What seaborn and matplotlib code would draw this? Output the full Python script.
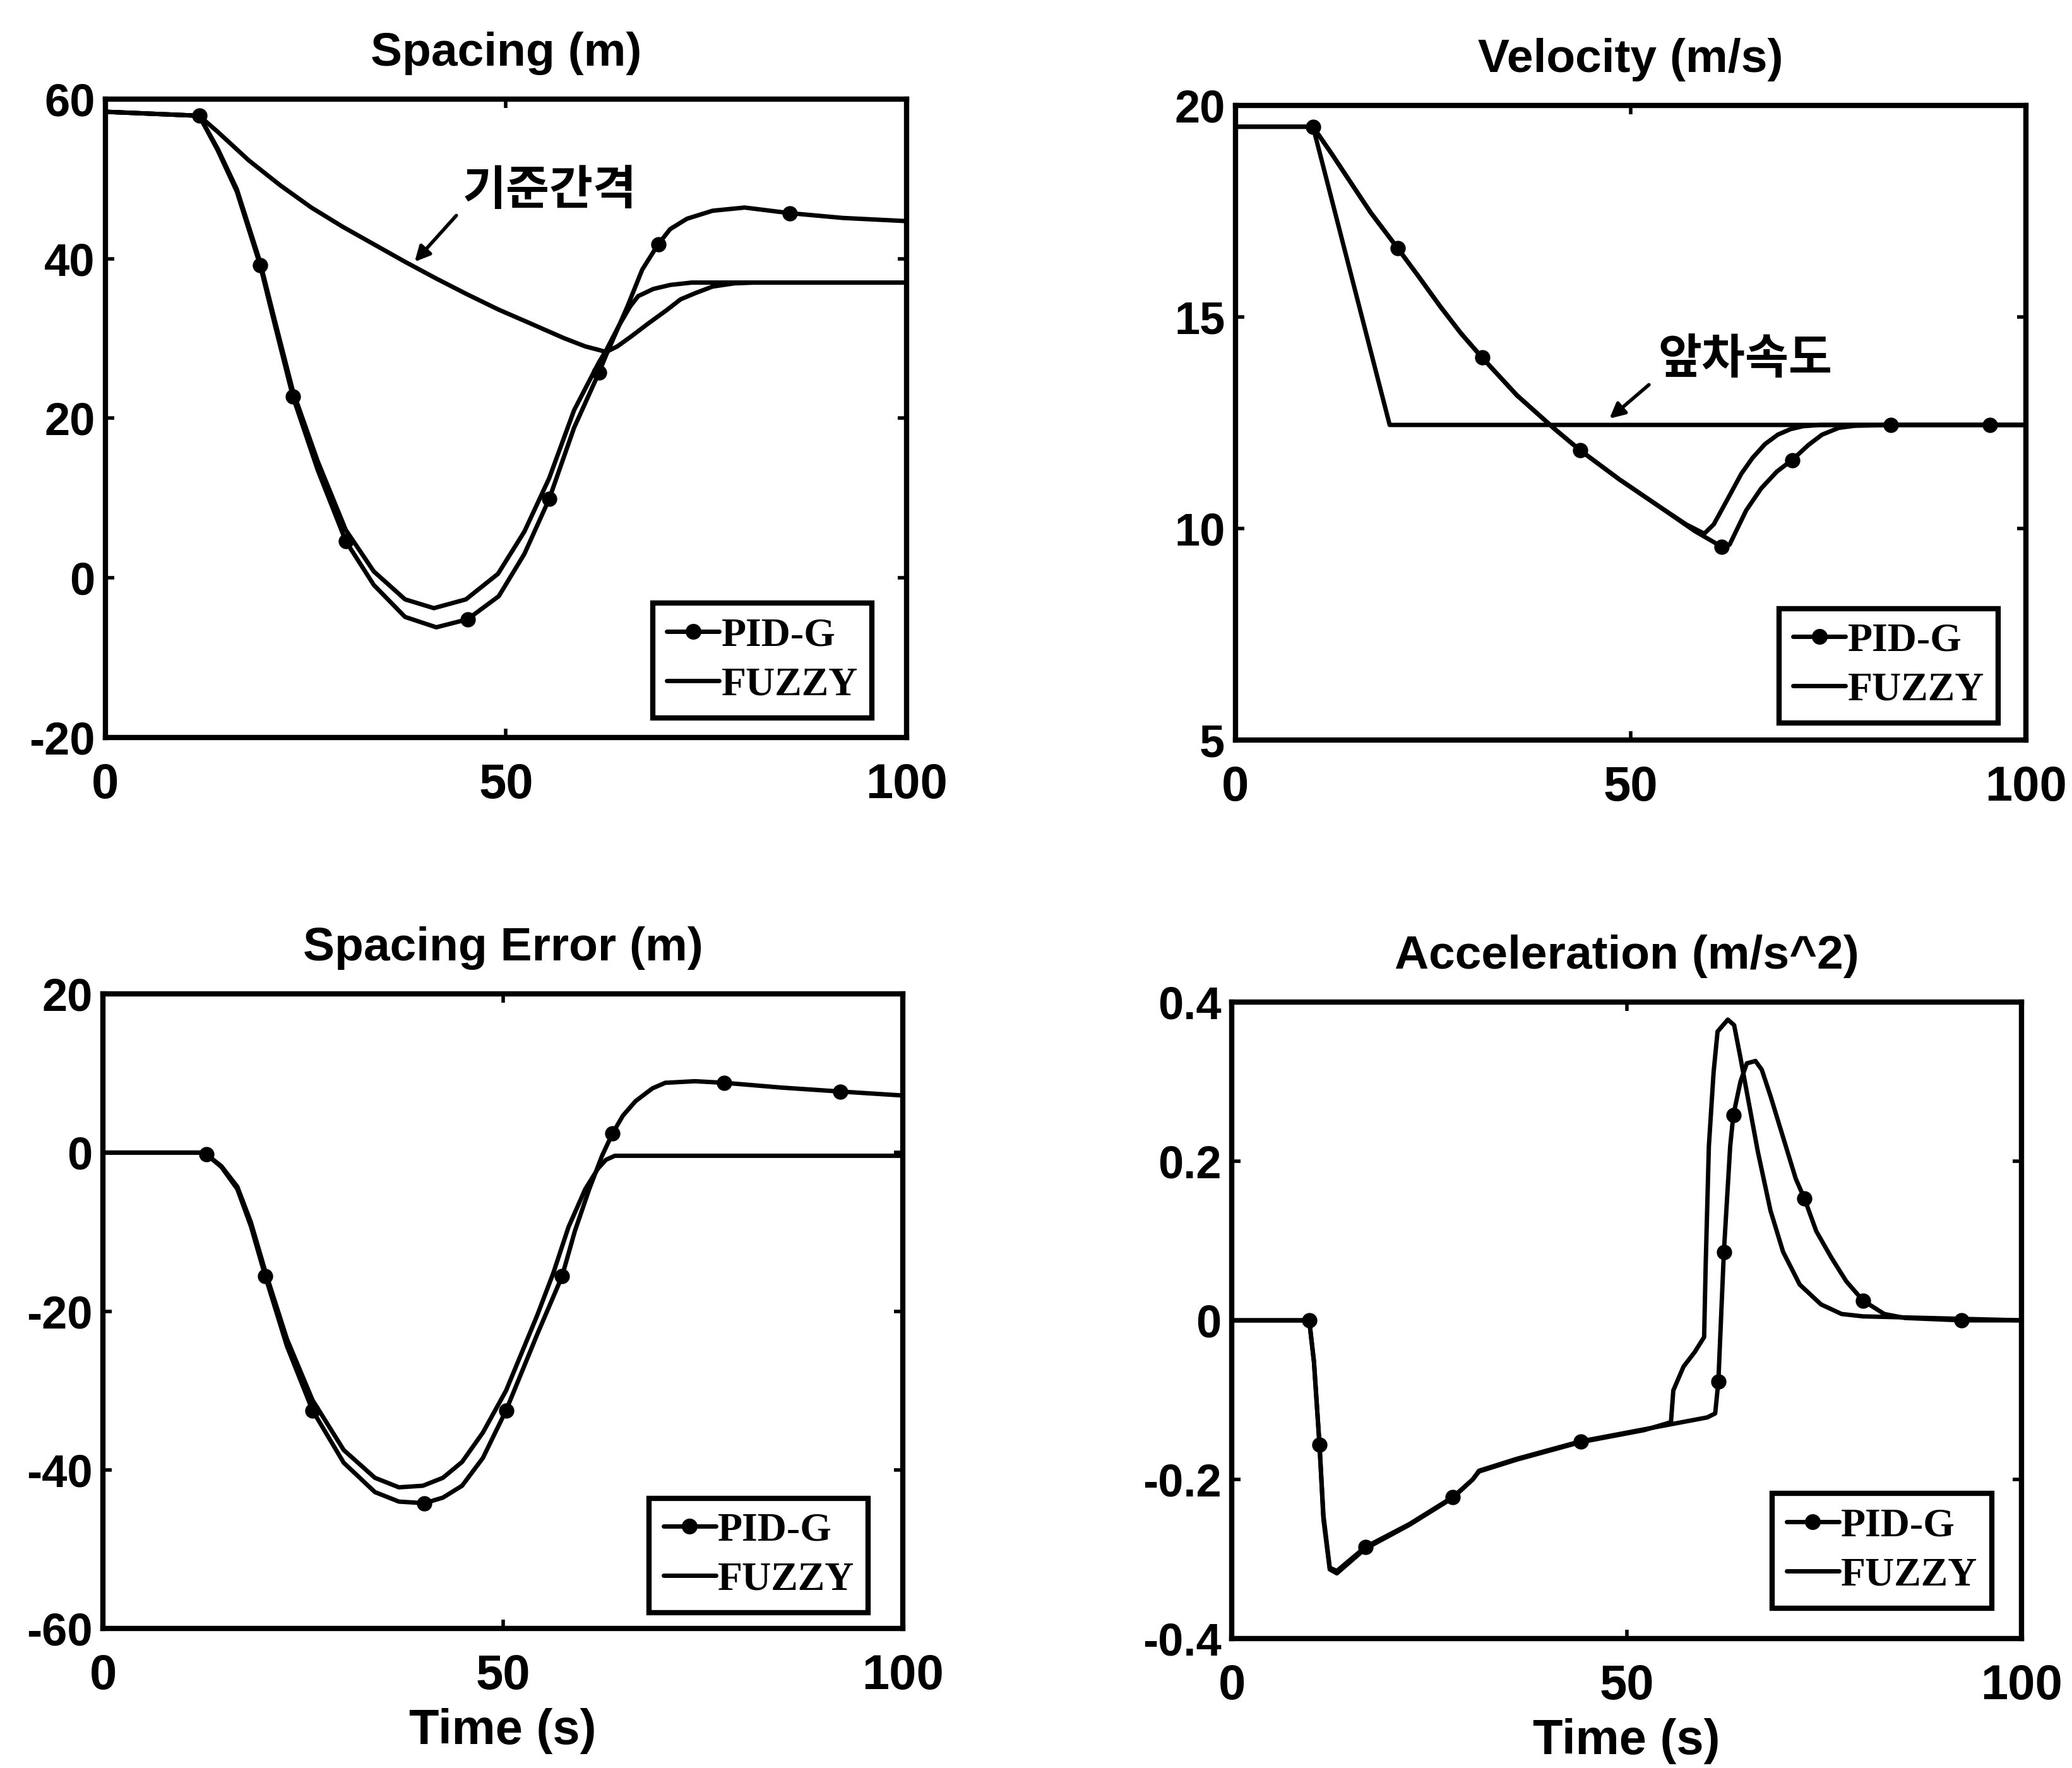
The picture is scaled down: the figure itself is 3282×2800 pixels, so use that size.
import numpy as np
import matplotlib
matplotlib.use('Agg')
from matplotlib import pyplot as plt
from matplotlib.lines import Line2D
import seaborn as sns


# ---------- data ----------
x_ticks = [0, 50, 100]
x_tick_labels = ['0', '50', '100']

# spacing (m)
sp_pid_t = [0, 11.7, 14.0, 16.4, 19.3, 21.1, 23.4, 26.5, 30.0, 33.5, 37.4, 41.3, 45.2,
            49.1, 52.3, 55.4, 58.5, 61.6, 62.5, 65.2, 67.0, 69.0, 70.5, 72.6, 75.8, 79.8,
            85.4, 92.0, 100]
sp_pid = [58.4, 57.9, 53.6, 48.4, 39.2, 31.9, 22.7, 13.5, 4.6, -0.9, -4.9, -6.2, -5.2,
          -2.3, 3.0, 9.9, 18.8, 25.7, 27.9, 34.1, 38.6, 41.8, 43.7, 45.0, 46.0, 46.4,
          45.7, 45.1, 44.7]
sp_pid_marks = [11.7, 19.3, 23.4, 30.0, 45.2, 55.4, 61.6, 69.0, 85.4]
sp_fz_t = [0, 11.7, 14.0, 16.4, 19.3, 21.1, 23.4, 26.5, 30.0, 33.5, 37.4, 41.0, 45.0,
           49.0, 52.3, 55.4, 58.5, 61.6, 62.5, 64.1, 65.5, 66.5, 68.4, 70.5, 73.2, 100]
sp_fz = [58.4, 57.9, 53.8, 48.7, 39.6, 32.4, 23.4, 14.6, 6.0, 0.8, -2.7, -3.8, -2.7,
         0.5, 5.8, 12.5, 21.0, 27.0, 28.5, 31.6, 34.0, 35.3, 36.2, 36.7, 37.0, 37.0]
sp_ref_t = [0, 11.7, 14.0, 17.9, 21.8, 25.7, 29.6, 33.5, 37.4, 41.3, 45.2, 49.1, 53.0,
            57.2, 59.9, 61.8, 62.5, 63.9, 65.7, 67.8, 70.0, 71.8, 73.7, 75.8, 78.5, 81.1, 100]
sp_ref = [58.4, 57.9, 55.9, 52.3, 49.2, 46.4, 44.0, 41.8, 39.6, 37.5, 35.5, 33.6, 31.9,
          30.05, 29.0, 28.5, 28.3, 29.0, 30.3, 31.9, 33.5, 34.9, 35.7, 36.5, 36.9, 37.0, 37.0]
sp_yticks = [-20, 0, 20, 40, 60]
sp_ytick_labels = ['-20', '0', '20', '40', '60']

# velocity (m/s)
lead_t = [0, 9.8, 19.5, 100]
lead_v = [19.5, 19.5, 12.45, 12.45]
vel_pid_t = [0, 9.8, 12.2, 14.5, 17.1, 20.5, 23.0, 25.9, 28.5, 31.2, 35.6, 40.4, 43.6,
             48.5, 53.3, 58.1, 60.5, 61.5, 62.5, 64.6, 66.5, 68.5, 70.4, 72.5, 74.2,
             76.3, 78.3, 82.9, 95.4, 100]
vel_pid = [19.5, 19.5, 18.85, 18.2, 17.47, 16.63, 16.0, 15.25, 14.62, 14.04, 13.15, 12.35,
           11.85, 11.17, 10.56, 9.94, 9.68, 9.57, 9.62, 10.43, 10.95, 11.35, 11.62, 11.98,
           12.22, 12.38, 12.43, 12.45, 12.45, 12.45]
vel_pid_marks = [9.8, 20.5, 31.2, 43.6, 61.5, 70.4, 82.9, 95.4]
vel_fz_t = [0, 9.8, 12.2, 14.5, 17.1, 20.5, 23.0, 25.9, 28.5, 31.2, 35.6, 40.4, 43.6,
            48.5, 53.3, 57.0, 59.3, 60.5, 62.2, 64.0, 65.4, 67.0, 68.6, 70.2, 71.8, 74.0, 100]
vel_fz = [19.5, 19.5, 18.85, 18.2, 17.47, 16.63, 16.0, 15.25, 14.62, 14.04, 13.15, 12.35,
          11.85, 11.17, 10.56, 10.1, 9.88, 10.1, 10.68, 11.3, 11.67, 12.0, 12.22, 12.35,
          12.42, 12.45, 12.45]
vel_yticks = [5, 10, 15, 20]
vel_ytick_labels = ['5', '10', '15', '20']

# spacing error (m)
err_pid_t = [0, 12.0, 12.9, 14.8, 16.8, 18.5, 20.3, 23.0, 26.2, 30.1, 34.0, 37.0, 40.2,
             42.5, 44.9, 47.5, 50.4, 54.3, 57.4, 59.0, 60.8, 62.4, 63.7, 65.0, 66.6, 68.7,
             70.3, 74.0, 77.7, 84.8, 92.2, 100]
err_pid = [0, 0, -0.2, -1.8, -4.6, -9.3, -15.6, -24.4, -32.5, -39.1, -42.8, -44.0, -44.2,
           -43.5, -42.0, -38.5, -32.5, -22.9, -15.6, -9.9, -4.6, -0.4, 2.4, 4.65, 6.5, 8.1,
           8.8, 9.0, 8.8, 8.2, 7.7, 7.2]
err_pid_marks = [12.9, 20.3, 26.2, 40.2, 50.4, 57.4, 63.7, 77.7, 92.2]
err_fz_t = [0, 12.0, 12.9, 14.8, 16.8, 18.5, 20.3, 23.0, 26.2, 30.1, 34.0, 37.0, 40.0,
            42.5, 44.9, 47.5, 50.4, 54.3, 56.3, 58.2, 60.3, 61.9, 62.9, 64.0, 100]
err_fz = [0, 0, -0.2, -1.7, -4.3, -8.8, -15.0, -23.5, -31.2, -37.5, -41.0, -42.2, -42.0,
          -41.0, -39.0, -35.3, -30.0, -20.5, -15.2, -9.4, -4.6, -2.0, -0.9, -0.4, -0.4]
err_yticks = [-60, -40, -20, 0, 20]
err_ytick_labels = ['-60', '-40', '-20', '0', '20']

# acceleration (m/s^2)
acc_pid_t = [0, 9.8, 10.4, 11.1, 11.6, 12.4, 13.3, 16.9, 22.5, 28.0, 30.5, 31.3, 36.1,
             44.2, 52.2, 60.2, 61.2, 61.6, 62.3, 63.1, 63.5, 64.4, 65.2, 66.3, 67.1, 68.2,
             69.8, 71.4, 72.5, 74.0, 75.9, 77.8, 79.9, 82.6, 85.2, 92.4, 100]
acc_pid = [0, 0, -0.052, -0.156, -0.245, -0.311, -0.315, -0.285, -0.256, -0.222, -0.2,
           -0.189, -0.174, -0.152, -0.137, -0.122, -0.117, -0.077, 0.086, 0.219, 0.258,
           0.300, 0.323, 0.326, 0.315, 0.282, 0.230, 0.178, 0.153, 0.112, 0.079, 0.049,
           0.025, 0.008, 0.003, 0.0, 0.0]
acc_pid_marks = [9.8, 11.1, 16.9, 28.0, 44.2, 61.6, 62.3, 63.5, 72.5, 79.9, 92.4]
acc_fz_t = [0, 9.8, 10.4, 11.1, 11.6, 12.4, 13.3, 16.9, 22.5, 28.0, 30.5, 31.3, 36.1,
            44.2, 52.2, 55.6, 55.9, 57.2, 58.6, 59.8, 60.0, 60.4, 61.0, 61.5, 62.8, 63.6,
            64.4, 65.5, 66.6, 68.2, 69.8, 71.9, 74.6, 77.2, 79.9, 100]
acc_fz = [0, 0, -0.052, -0.156, -0.25, -0.313, -0.318, -0.287, -0.257, -0.223, -0.2,
          -0.19, -0.175, -0.153, -0.138, -0.128, -0.088, -0.058, -0.04, -0.021, 0.071,
          0.219, 0.312, 0.363, 0.378, 0.371, 0.33, 0.271, 0.212, 0.138, 0.086, 0.045,
          0.02, 0.008, 0.005, 0.0]
acc_yticks = [-0.4, -0.2, 0, 0.2, 0.4]
acc_ytick_labels = ['-0.4', '-0.2', '0', '0.2', '0.4']


# ---------- style ----------
sns.set_theme(style='ticks')
plt.rcParams['font.family'] = ['Liberation Sans', 'Noto Sans CJK KR', 'DejaVu Sans']
plt.rcParams.update({
    'font.weight': 'bold',
    'axes.edgecolor': 'black', 'axes.linewidth': 3,
    'text.color': 'black', 'axes.labelcolor': 'black',
    'xtick.color': 'black', 'ytick.color': 'black',
    'xtick.direction': 'in', 'ytick.direction': 'in',
    'xtick.top': True, 'ytick.right': True,
    'xtick.major.size': 5, 'ytick.major.size': 5,
    'xtick.major.width': 2, 'ytick.major.width': 2,
})

fig = plt.figure(figsize=(16.41, 14), dpi=200)
LW = 2.5
KR = ['Noto Sans CJK KR', 'DejaVu Sans']


def panel(rect, title, pid_t, pid_y, pid_marks, fz_t, fz_y, ylim, yticks, ylabels,
          leg_anchor, xlabel=None):
    ax = fig.add_axes(rect)
    sns.lineplot(x=fz_t, y=fz_y, ax=ax, color='black', lw=LW, estimator=None, sort=False)
    mask = list(np.isin(pid_t, pid_marks))
    sns.lineplot(x=pid_t, y=pid_y, ax=ax, color='black', lw=LW, estimator=None, sort=False,
                 marker='o', markersize=8, markevery=mask,
                 markeredgecolor='black', markerfacecolor='black')
    ax.set_xlim(0, 100)
    ax.set_ylim(*ylim)
    ax.set_xticks(x_ticks)
    ax.set_xticklabels(x_tick_labels, fontsize=28, fontweight='bold')
    ax.set_yticks(yticks)
    ax.set_yticklabels(ylabels, fontsize=26, fontweight='bold')
    ax.tick_params(axis='x', pad=14)
    ax.tick_params(axis='y', pad=6)
    ax.set_title(title, fontsize=27, fontweight='bold', pad=19)
    ax.set_xlabel(xlabel if xlabel else '', fontsize=28, fontweight='bold', labelpad=5)
    ax.set_ylabel('')

    handles = [Line2D([], [], color='black', lw=LW, marker='o', ms=8),
               Line2D([], [], color='black', lw=LW)]
    leg = ax.legend(handles, ['PID-G', 'FUZZY'], loc='lower right', bbox_to_anchor=leg_anchor,
                    borderaxespad=0, frameon=True, fancybox=False, framealpha=1,
                    edgecolor='black',
                    prop={'family': 'Liberation Serif', 'size': 23, 'weight': 'bold'},
                    handlelength=1.3, handletextpad=0.05, labelspacing=0.3, borderpad=0.35)
    leg.get_frame().set_linewidth(3)
    return ax


arrow = dict(arrowstyle='-|>', color='black', lw=2, mutation_scale=18, shrinkA=0, shrinkB=0)

ax1 = panel([0.0509, 0.5829, 0.3866, 0.3611], 'Spacing (m)', sp_pid_t, sp_pid, sp_pid_marks,
            sp_fz_t, sp_fz, (-20, 60), sp_yticks, sp_ytick_labels, (0.957, 0.031))
sns.lineplot(x=sp_ref_t, y=sp_ref, ax=ax1, color='black', lw=LW, estimator=None, sort=False)
ax1.annotate('', xy=(38.6, 39.6), xytext=(43.8, 45.4), arrowprops=arrow)
ax1.text(44.6, 48.5, '기준간격', fontsize=27, fontweight='bold', family=KR,
         ha='left', va='center')

ax2 = panel([0.5963, 0.5814, 0.3815, 0.3589], 'Velocity (m/s)', vel_pid_t, vel_pid, vel_pid_marks,
            vel_fz_t, vel_fz, (5, 20), vel_yticks, vel_ytick_labels, (0.965, 0.027))
sns.lineplot(x=lead_t, y=lead_v, ax=ax2, color='black', lw=LW, estimator=None, sort=False)
ax2.annotate('', xy=(47.3, 12.6), xytext=(52.3, 13.4), arrowprops=arrow)
ax2.text(53.5, 14.0, '앞차속도', fontsize=27, fontweight='bold', family=KR,
         ha='left', va='center')

panel([0.0497, 0.0789, 0.386, 0.3589], 'Spacing Error (m)', err_pid_t, err_pid, err_pid_marks,
      err_fz_t, err_fz, (-60, 20), err_yticks, err_ytick_labels, (0.957, 0.025), 'Time (s)')

panel([0.5945, 0.0732, 0.3812, 0.36], 'Acceleration (m/s^2)', acc_pid_t, acc_pid, acc_pid_marks,
      acc_fz_t, acc_fz, (-0.4, 0.4), acc_yticks, acc_ytick_labels, (0.962, 0.048), 'Time (s)')

fig.savefig('out.png', dpi=200, facecolor='white')
